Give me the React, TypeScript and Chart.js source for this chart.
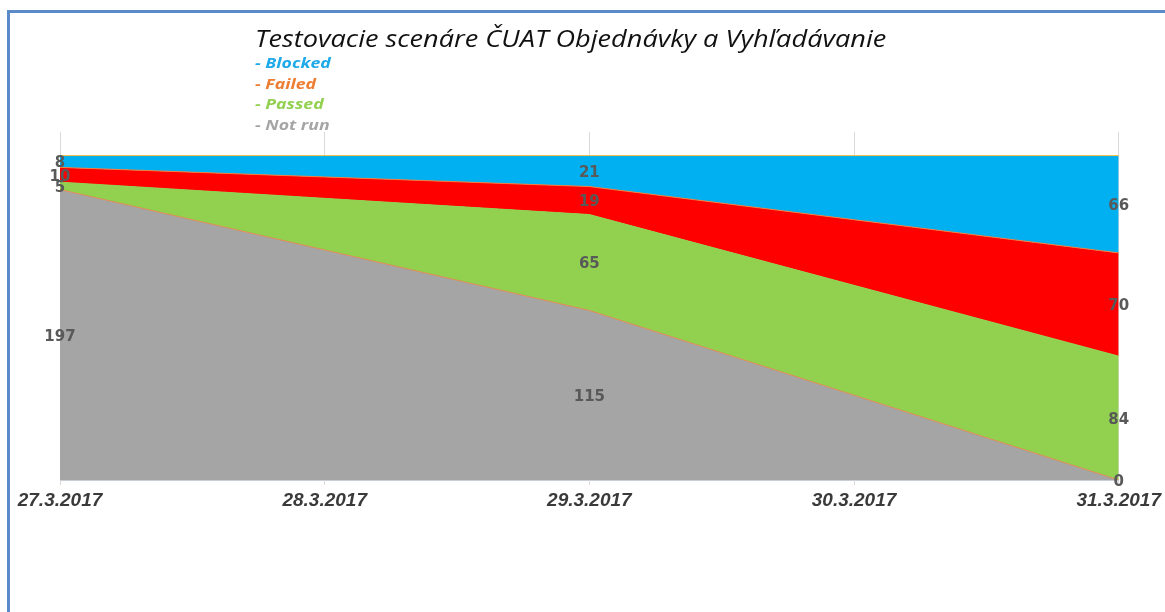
import React, { useEffect, useRef } from "react";
import { Chart, registerables } from "chart.js";

Chart.register(...registerables);

const TITLE = "Testovacie scenáre ČUAT Objednávky a Vyhľadávanie";
const categories = ["27.3.2017", "28.3.2017", "29.3.2017", "30.3.2017", "31.3.2017"];
const notRun = [197, null, 115, null, 0];
const passed = [5, null, 65, null, 84];
const failed = [10, null, 19, null, 70];
const blocked = [8, null, 21, null, 66];

const seriesLabels = ["Not run", "Passed", "Failed", "Blocked"];
const fillColors = ["#A5A5A5", "#92D050", "#FF0000", "#00B0F0"];
const borderColors = ["#E08A50", "#92D050", "#F08040", "#F5C242"];
const legendColors = ["#A5A5A5", "#92D050", "#ED7D31", "#1EA9E8"];

const overlayPlugin = {
  id: "overlay",
  afterDatasetsDraw(chart: any) {
    const ctx = chart.ctx;
    const yScale = chart.scales.y;
    ctx.save();
    ctx.font = "bold 15px 'DejaVu Sans'";
    ctx.fillStyle = "#595959";
    ctx.textAlign = "center";
    ctx.textBaseline = "middle";
    chart.data.datasets.forEach((ds: any, i: number) => {
      const meta = chart.getDatasetMeta(i);
      ds.data.forEach((v: any, j: number) => {
        if (v === null || v === undefined) return;
        const pt = meta.data[j];
        const y0 = i === 0 ? yScale.getPixelForValue(0) : chart.getDatasetMeta(i - 1).data[j].y;
        ctx.fillText(String(v), pt.x, (pt.y + y0) / 2 + 2);
      });
    });
    ctx.restore();
  },
  afterDraw(chart: any) {
    const ctx = chart.ctx;
    ctx.save();
    ctx.textAlign = "left";
    ctx.textBaseline = "alphabetic";
    ctx.translate(255, 0);
    ctx.scale(1.18, 1);
    ctx.fillStyle = "#111111";
    ctx.font = "italic 23px 'Open Sans'";
    ctx.fillText(TITLE, 0, 47);
    ctx.font = "italic bold 15px 'Open Sans'";
    const order = [3, 2, 1, 0];
    order.forEach((idx, k) => {
      ctx.fillStyle = legendColors[idx];
      ctx.fillText("- " + seriesLabels[idx], 0, 68 + k * 20.5);
    });
    ctx.restore();
  },
};

export default function App() {
  const ref = useRef<HTMLCanvasElement | null>(null);
  useEffect(() => {
    document.body.style.margin = "0";
    document.body.style.overflow = "hidden";
    const series = [notRun, passed, failed, blocked];
    const chart = new Chart(ref.current as HTMLCanvasElement, {
      type: "line",
      data: {
        labels: categories,
        datasets: series.map((d, i) => ({
          label: seriesLabels[i],
          data: d,
          backgroundColor: fillColors[i],
          borderColor: borderColors[i],
          borderWidth: 1,
          fill: i === 0 ? "origin" : "-1",
          pointRadius: 0,
          tension: 0,
          spanGaps: true,
        })),
      },
      options: {
        animation: false,
        responsive: false,
        layout: { padding: { left: 60, right: 45, top: 132, bottom: 100 } },
        plugins: { legend: { display: false }, tooltip: { enabled: false }, title: { display: false } },
        scales: {
          x: {
            offset: false,
            grid: { color: "#D9D9D9", tickLength: 5, drawOnChartArea: true },
            border: { color: "#C8CDD6" },
            ticks: {
              color: "#3A3A3A",
              font: { family: "'Liberation Sans'", size: 19, style: "italic", weight: "bold" },
              maxRotation: 0,
              padding: 4,
            },
            afterFit: (s: any) => {
              s.height = 32;
            },
          },
          y: {
            display: false,
            stacked: true,
            min: 0,
            max: 236,
          },
        },
      },
      plugins: [overlayPlugin],
    } as any);
    return () => chart.destroy();
  }, []);
  return (
    <div style={{ position: "relative", width: 1165, height: 612, overflow: "hidden", background: "#fff" }}>
      <canvas ref={ref} width={1165} height={612} style={{ position: "absolute", left: 0, top: 0 }} />
      <div
        style={{
          position: "absolute",
          left: 7,
          top: 10,
          width: 1300,
          height: 800,
          borderLeft: "3px solid #5B8AC8",
          borderTop: "3px solid #5B8AC8",
          pointerEvents: "none",
        }}
      />
    </div>
  );
}
